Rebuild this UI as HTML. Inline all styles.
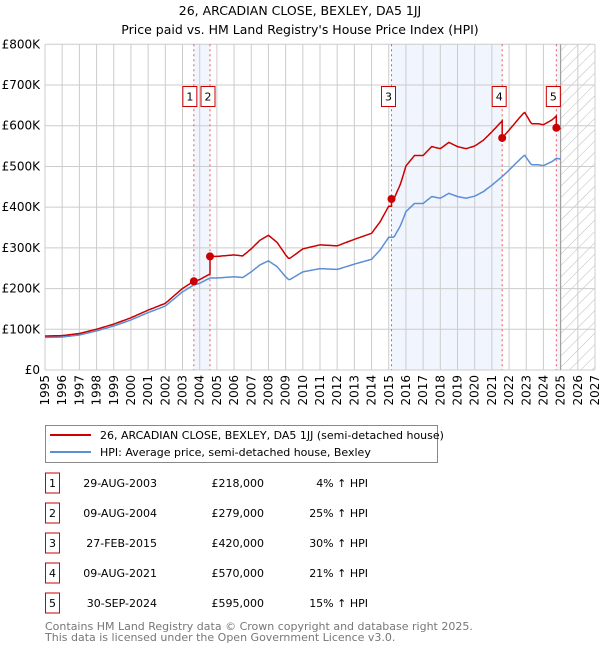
<!DOCTYPE html>
<html><head><meta charset="utf-8"><style>
body{margin:0;background:#fff;font-family:"DejaVu Sans","Liberation Sans",sans-serif;}
svg text{font-family:"DejaVu Sans","Liberation Sans",sans-serif;}
</style></head><body>
<svg id="chart" width="600" height="650" xmlns="http://www.w3.org/2000/svg">
<defs><pattern id="hatch" patternUnits="userSpaceOnUse" width="8" height="8" patternTransform="rotate(45)"><line x1="0" y1="0" x2="0" y2="8" stroke="#bbb" stroke-width="1"/></pattern></defs>
<text x="300" y="15" font-size="12.5" text-anchor="middle">26, ARCADIAN CLOSE, BEXLEY, DA5 1JJ</text>
<text x="300" y="34" font-size="12.5" text-anchor="middle">Price paid vs. HM Land Registry's House Price Index (HPI)</text>
<g id="plot"></g>
<g>
<rect x="45.5" y="425.5" width="392" height="37" fill="#fff" stroke="#888"/>
<line x1="50" y1="435" x2="91" y2="435" stroke="#cc0000" stroke-width="2"/>
<text x="100" y="439" font-size="11">26, ARCADIAN CLOSE, BEXLEY, DA5 1JJ (semi-detached house)</text>
<line x1="50" y1="452" x2="91" y2="452" stroke="#5b8fd6" stroke-width="2"/>
<text x="100" y="456" font-size="11">HPI: Average price, semi-detached house, Bexley</text>
</g>
<g id="table"></g>
<text x="45" y="630" font-size="11" fill="#777">Contains HM Land Registry data © Crown copyright and database right 2025.</text>
<text x="45" y="641" font-size="11" fill="#777">This data is licensed under the Open Government Licence v3.0.</text>
</svg>
<script>
const hpiYears=[1995,1996,1997,1998,1999,2000,2001,2002,2003,2003.66,2004,2004.6,2005,2006,2006.5,2007,2007.5,2008,2008.5,2009,2009.2,2010,2011,2012,2013,2014,2014.5,2015,2015.3,2015.7,2016,2016.5,2017,2017.5,2018,2018.5,2019,2019.5,2020,2020.5,2021,2021.6,2022,2022.5,2022.9,2023.3,2023.7,2024,2024.5,2024.75,2025];
const hpiValues=[80,81,86,96,108,123,141,157,192,209,213,226,226,229,227,241,258,268,254,229,221,241,249,247,260,272,295,326,326,356,389,409,409,426,422,434,426,422,427,438,454,475,491,512,528,504,504,502,512,520,518];
const saleYears=[2003.66,2004.6,2015.16,2021.6,2024.75];
const salePrices=[218,279,420,570,595];
const saleLabels=["1","2","3","4","5"];
const saleDates=["29-AUG-2003","09-AUG-2004","27-FEB-2015","09-AUG-2021","30-SEP-2024"];
const salePriceText=["£218,000","£279,000","£420,000","£570,000","£595,000"];
const salePct=["4% ↑ HPI","25% ↑ HPI","30% ↑ HPI","21% ↑ HPI","15% ↑ HPI"];
const yTicks=[0,100,200,300,400,500,600,700,800];
const yTickLabels=["£0","£100K","£200K","£300K","£400K","£500K","£600K","£700K","£800K"];
const xTicks=[1995,1996,1997,1998,1999,2000,2001,2002,2003,2004,2005,2006,2007,2008,2009,2010,2011,2012,2013,2014,2015,2016,2017,2018,2019,2020,2021,2022,2023,2024,2025,2026,2027];

const L=45,R=595,T=44.3,B=370,X0=1995,X1=2027,YMAX=800;
const xs=v=>L+(v-X0)/(X1-X0)*(R-L);
const ys=v=>B-v/YMAX*(B-T);
const NS="http://www.w3.org/2000/svg";
const plot=document.getElementById('plot');
function mk(tag,attrs,parent){const e=document.createElementNS(NS,tag);for(const k in attrs)e.setAttribute(k,attrs[k]);(parent||plot).appendChild(e);return e;}
function hpiAt(t){for(let i=0;i<hpiYears.length-1;i++){if(t<=hpiYears[i+1]){const f=(t-hpiYears[i])/(hpiYears[i+1]-hpiYears[i]);return hpiValues[i]+f*(hpiValues[i+1]-hpiValues[i]);}}return hpiValues[hpiValues.length-1];}

for(let i=0;i<saleYears.length;i+=2){
  const end=i+1<saleYears.length?saleYears[i+1]:2025;
  const r=mk('rect',{x:xs(saleYears[i]),y:T,width:xs(end)-xs(saleYears[i]),height:B-T,fill:'#eef3fc',opacity:0.8});
  
  
}
const hz=mk('rect',{x:xs(2025),y:T,width:R-xs(2025),height:B-T,fill:'url(#hatch)'});


yTicks.forEach((v,i)=>{
  const g=mk('line',{x1:L,x2:R,y1:ys(v),y2:ys(v),stroke:'#ccc','stroke-width':1});
  
  
  const t=mk('text',{x:L-5,y:ys(v)+4,'font-size':12,'text-anchor':'end'});
  t.textContent=yTickLabels[i];
  
  
});
xTicks.forEach(v=>{
  const g=mk('line',{x1:xs(v),x2:xs(v),y1:T,y2:B,stroke:'#ccc','stroke-width':1});
  
  
  const t=mk('text',{x:0,y:0,'font-size':12,'text-anchor':'end',transform:`translate(${xs(v)+4},${B+5}) rotate(-90)`});
  t.textContent=v;
  
  
});
mk('line',{x1:xs(2025),x2:xs(2025),y1:T,y2:B,stroke:'#999','stroke-width':1});
saleYears.forEach((s,i)=>{
  const l=mk('line',{x1:xs(s),x2:xs(s),y1:T,y2:B,stroke:'#e55','stroke-width':1,'stroke-dasharray':'2,3'});
  
  
  const bw=14,bh=20;
  const x0=xs(s)-(i===0?11:(i===1?9:10));
  const b=mk('rect',{x:x0,y:86.5,width:bw,height:bh,fill:'#fff',stroke:'#cc0000'});
  
  
  const t=mk('text',{x:x0+bw/2,y:100.5,'font-size':11,'text-anchor':'middle'});
  t.textContent=saleLabels[i];
  
  
});
let d='';
for(let t=1995;t<=2025.0001;t+=1/12){d+=(d?'L':'M')+xs(t).toFixed(1)+','+ys(hpiAt(t)).toFixed(1);}
const hp=mk('path',{d:d,fill:'none',stroke:'#5b8fd6','stroke-width':1.5});


let pd='';
for(let t=1995;t<=2025.0001;t+=1/12){
  let k=0;for(let i=0;i<saleYears.length;i++){if(t>=saleYears[i])k=i;}
  const ratio=salePrices[k]/hpiAt(saleYears[k]);
  pd+=(pd?'L':'M')+xs(t).toFixed(1)+','+ys(hpiAt(t)*ratio).toFixed(1);
  const nxt=saleYears.find(s=>s>t&&s<t+1/12);
  if(nxt!==undefined){const i=saleYears.indexOf(nxt);
    pd+='L'+xs(nxt).toFixed(1)+','+ys(hpiAt(nxt)*ratio).toFixed(1)+'L'+xs(nxt).toFixed(1)+','+ys(salePrices[i]).toFixed(1);}
}
const pp=mk('path',{d:pd,fill:'none',stroke:'#cc0000','stroke-width':1.5});


saleYears.forEach((s,i)=>{
  const c=mk('circle',{cx:xs(s),cy:ys(salePrices[i]),r:4,fill:'#cc0000'});
  
  
});
const tb=document.getElementById('table');
saleYears.forEach((s,i)=>{
  const cy=483+i*30;
  const b=mk('rect',{x:45.5,y:cy-10,width:14,height:20,fill:'#fff',stroke:'#cc0000'},tb);
  
  
  const n=mk('text',{x:52.5,y:cy+4,'font-size':11,'text-anchor':'middle'},tb);
  n.textContent=saleLabels[i];
  
  
  const dt=mk('text',{x:157,y:cy+4,'font-size':11,'text-anchor':'end'},tb);
  dt.textContent=saleDates[i];
  
  
  const p=mk('text',{x:264,y:cy+4,'font-size':11,'text-anchor':'end'},tb);
  p.textContent=salePriceText[i];
  
  
  const pc=mk('text',{x:368,y:cy+4,'font-size':11,'text-anchor':'end'},tb);
  pc.textContent=salePct[i];
  
  
});
</script>
</body></html>
